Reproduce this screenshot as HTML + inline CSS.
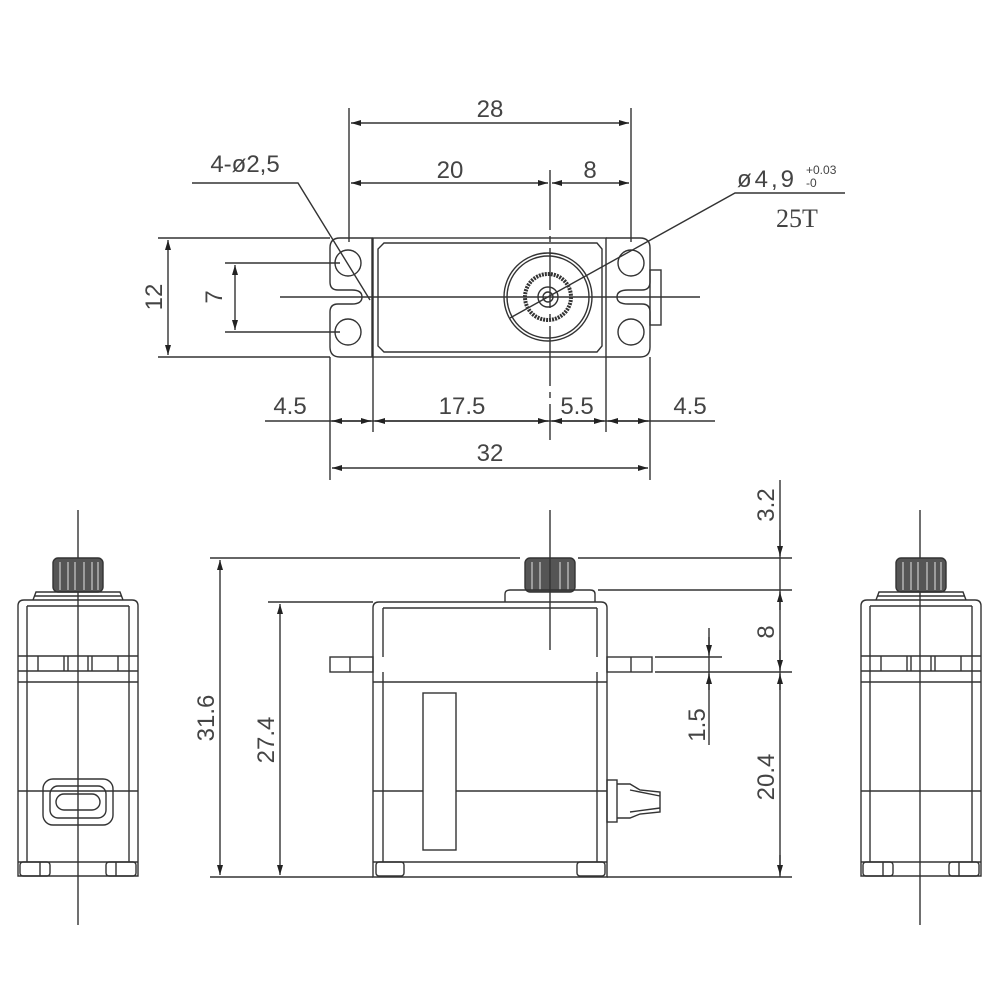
<!DOCTYPE html>
<html><head><meta charset="utf-8"><style>
html,body{margin:0;padding:0;background:#fff;}
svg{display:block;}
text{font-family:"Liberation Sans",sans-serif;fill:#444;}
</style></head><body>
<svg width="1000" height="1000" viewBox="0 0 1000 1000" xmlns="http://www.w3.org/2000/svg">
<defs>
<marker id="a" viewBox="0 0 10 6" refX="10" refY="3" markerWidth="10" markerHeight="6" markerUnits="userSpaceOnUse" orient="auto-start-reverse"><path d="M0,0L10,3L0,6z" fill="#222"/></marker>
<g id="side" fill="none" stroke="#333" stroke-width="1.4">
  <rect x="-25" y="558" width="50" height="34" rx="5" fill="#555"/>
  <g stroke="#ccc" stroke-width="1.2"><line x1="-18" y1="562" x2="-18" y2="590"/><line x1="-10" y1="562" x2="-10" y2="590"/><line x1="-3" y1="562" x2="-3" y2="590"/><line x1="6" y1="562" x2="6" y2="590"/><line x1="14" y1="562" x2="14" y2="590"/><line x1="20" y1="562" x2="20" y2="590"/></g>
  <path d="M-45,600 L-42,592 L42,592 L45,600"/>
  <line x1="-44" y1="596" x2="44" y2="596"/>
  <path d="M-60,876 L-60,606 Q-60,600 -54,600 L54,600 Q60,600 60,606 L60,876 Z"/>
  <line x1="-51" y1="606" x2="51" y2="606"/>
  <line x1="-51" y1="606" x2="-51" y2="862"/><line x1="51" y1="606" x2="51" y2="862"/>
  <line x1="-60" y1="656" x2="60" y2="656"/>
  <line x1="-60" y1="671" x2="60" y2="671"/>
  <line x1="-60" y1="682" x2="60" y2="682"/>
  <line x1="-40" y1="656" x2="-40" y2="671"/><line x1="40" y1="656" x2="40" y2="671"/>
  <line x1="-14" y1="656" x2="-14" y2="671"/><line x1="-10" y1="656" x2="-10" y2="671"/>
  <line x1="10" y1="656" x2="10" y2="671"/><line x1="14" y1="656" x2="14" y2="671"/>
  <line x1="-60" y1="791" x2="60" y2="791"/>
  <line x1="-60" y1="862" x2="60" y2="862"/>
  <rect x="-58" y="862" width="30" height="14" rx="3"/><rect x="28" y="862" width="30" height="14" rx="3"/>
  <line x1="-38" y1="862" x2="-38" y2="876"/><line x1="38" y1="862" x2="38" y2="876"/>
</g>
</defs>

<g fill="none" stroke="#333" stroke-width="1.4">
<!-- TOP VIEW -->
<line x1="349" y1="108" x2="349" y2="242"/><line x1="631" y1="108" x2="631" y2="242"/>
<line x1="351" y1="123" x2="629" y2="123" marker-start="url(#a)" marker-end="url(#a)"/>
<line x1="351" y1="183" x2="548" y2="183" marker-start="url(#a)" marker-end="url(#a)"/>
<line x1="552" y1="183" x2="629" y2="183" marker-start="url(#a)" marker-end="url(#a)"/>
<line x1="550" y1="170" x2="550" y2="440" stroke-dasharray="60 6 6 6"/>
<polyline points="192,183 298,183 370,300"/>
<polyline points="845,193 735,193 510,318"/>
<line x1="280" y1="297" x2="700" y2="297"/>
<!-- flanges / body -->
<path d="M340,238 L372,238 L372,357 L340,357 Q330,357 330,347 L330,312 Q330,304 338,304 L352,304 Q362,304 362,297 Q362,290 352,290 L338,290 Q330,290 330,282 L330,248 Q330,238 340,238 Z"/>
<path d="M606,238 L640,238 Q650,238 650,248 L650,282 Q650,290 642,290 L628,290 Q617,290 617,297 Q617,304 628,304 L642,304 Q650,304 650,312 L650,347 Q650,357 640,357 L606,357"/>
<rect x="650" y="270" width="11" height="55"/>
<rect x="373" y="238" width="233" height="119"/>
<path d="M384,243 L597,243 L602,249 L602,346 L597,352 L384,352 L378,346 L378,249 Z"/>
<circle cx="348" cy="263" r="13"/><circle cx="348" cy="332" r="13"/>
<circle cx="631" cy="263" r="13"/><circle cx="631" cy="332" r="13"/>
<circle cx="548" cy="297" r="44"/><circle cx="548" cy="297" r="41"/>
<circle cx="548" cy="297" r="23" stroke-width="4" stroke-dasharray="2 1"/>
<circle cx="548" cy="297" r="10"/><circle cx="548" cy="297" r="5"/>
<!-- 12 & 7 -->
<line x1="158" y1="238" x2="330" y2="238"/><line x1="158" y1="357" x2="330" y2="357"/>
<line x1="168" y1="240" x2="168" y2="355" marker-start="url(#a)" marker-end="url(#a)"/>
<line x1="225" y1="263" x2="340" y2="263"/><line x1="225" y1="332" x2="340" y2="332"/>
<line x1="235" y1="265" x2="235" y2="330" marker-start="url(#a)" marker-end="url(#a)"/>
<!-- bottom dims -->
<line x1="330" y1="357" x2="330" y2="480"/><line x1="373" y1="357" x2="373" y2="432"/>
<line x1="606" y1="357" x2="606" y2="432"/><line x1="650" y1="357" x2="650" y2="480"/>
<line x1="265" y1="421" x2="715" y2="421"/>
<line x1="332" y1="421" x2="371" y2="421" marker-start="url(#a)" marker-end="url(#a)"/>
<line x1="375" y1="421" x2="548" y2="421" marker-start="url(#a)" marker-end="url(#a)"/>
<line x1="552" y1="421" x2="604" y2="421" marker-start="url(#a)" marker-end="url(#a)"/>
<line x1="608" y1="421" x2="648" y2="421" marker-start="url(#a)" marker-end="url(#a)"/>
<line x1="332" y1="468" x2="648" y2="468" marker-start="url(#a)" marker-end="url(#a)"/>

<!-- FRONT VIEW -->
<rect x="525" y="558" width="50" height="34" rx="5" fill="#555"/>
<g stroke="#ccc" stroke-width="1.2"><line x1="532" y1="562" x2="532" y2="590"/><line x1="540" y1="562" x2="540" y2="590"/><line x1="560" y1="562" x2="560" y2="590"/><line x1="568" y1="562" x2="568" y2="590"/></g>
<path d="M505,602 L505,594 Q505,590 510,590 L590,590 Q595,590 595,594 L595,602"/>
<path d="M373,877 L373,608 Q373,602 379,602 L601,602 Q607,602 607,608 L607,877 Z"/>
<line x1="383" y1="608" x2="597" y2="608"/>
<line x1="383" y1="608" x2="383" y2="657"/><line x1="597" y1="608" x2="597" y2="657"/>
<line x1="383" y1="672" x2="383" y2="862"/><line x1="597" y1="672" x2="597" y2="862"/>
<rect x="330" y="657" width="43" height="15"/><line x1="350" y1="657" x2="350" y2="672"/>
<rect x="607" y="657" width="45" height="15"/><line x1="631" y1="657" x2="631" y2="672"/>
<line x1="373" y1="682" x2="607" y2="682"/>
<rect x="423" y="693" width="33" height="157"/>
<line x1="373" y1="791" x2="423" y2="791"/><line x1="456" y1="791" x2="607" y2="791"/>
<line x1="373" y1="862" x2="607" y2="862"/>
<rect x="376" y="862" width="28" height="14" rx="3"/><rect x="577" y="862" width="28" height="14" rx="3"/>
<rect x="607" y="780" width="10" height="42"/>
<path d="M617,784 L630,784 L640,790 L660,792 L660,812 L640,814 L630,818 L617,818"/>
<line x1="630" y1="790" x2="660" y2="796"/><line x1="630" y1="812" x2="660" y2="808"/>
<line x1="550" y1="510" x2="550" y2="650"/>
<!-- front dims -->
<line x1="210" y1="558" x2="520" y2="558"/><line x1="578" y1="558" x2="792" y2="558"/>
<line x1="598" y1="590" x2="792" y2="590"/>
<line x1="268" y1="602" x2="373" y2="602"/>
<line x1="210" y1="877" x2="373" y2="877"/><line x1="607" y1="877" x2="792" y2="877"/>
<line x1="655" y1="657" x2="722" y2="657"/><line x1="655" y1="672" x2="792" y2="672"/>
<line x1="220" y1="560" x2="220" y2="875" marker-start="url(#a)" marker-end="url(#a)"/>
<line x1="280" y1="604" x2="280" y2="875" marker-start="url(#a)" marker-end="url(#a)"/>
<line x1="780" y1="480" x2="780" y2="877"/>
<line x1="780" y1="530" x2="780" y2="556" marker-end="url(#a)"/>
<line x1="780" y1="610" x2="780" y2="592" marker-end="url(#a)"/>
<line x1="780" y1="650" x2="780" y2="670" marker-end="url(#a)"/>
<line x1="780" y1="690" x2="780" y2="674" marker-end="url(#a)"/>
<line x1="780" y1="855" x2="780" y2="875" marker-end="url(#a)"/>
<line x1="709" y1="628" x2="709" y2="745"/>
<line x1="709" y1="637" x2="709" y2="655" marker-end="url(#a)"/>
<line x1="709" y1="690" x2="709" y2="674" marker-end="url(#a)"/>
<!-- side view center lines -->
<line x1="78" y1="510" x2="78" y2="925"/>
<line x1="920" y1="510" x2="920" y2="925"/>
<!-- connector on left side view -->
<rect x="43" y="779" width="70" height="46" rx="10"/>
<rect x="50" y="786" width="56" height="32" rx="8"/>
<rect x="56" y="794" width="44" height="16" rx="8"/>
</g>
<use href="#side" transform="translate(78,0)"/>
<use href="#side" transform="translate(921,0)"/>

<!-- TEXT -->
<g font-size="24" text-anchor="middle">
<text x="490" y="117">28</text>
<text x="450" y="178">20</text>
<text x="590" y="178">8</text>
<text x="245" y="172">4-ø2,5</text>
<text x="737" y="187" text-anchor="start" letter-spacing="3">ø4,9</text>
<text x="806" y="174" font-size="12" text-anchor="start">+0.03</text>
<text x="806" y="187" font-size="12" text-anchor="start">-0</text>
<text x="797" y="227" style="font-family:'Liberation Serif',serif" font-size="26">25T</text>
<text x="0" y="0" transform="translate(162,297) rotate(-90)">12</text>
<text x="0" y="0" transform="translate(222,297) rotate(-90)">7</text>
<text x="290" y="414">4.5</text>
<text x="462" y="414">17.5</text>
<text x="577" y="414">5.5</text>
<text x="690" y="414">4.5</text>
<text x="490" y="461">32</text>
<text x="0" y="0" transform="translate(214,718) rotate(-90)">31.6</text>
<text x="0" y="0" transform="translate(274,740) rotate(-90)">27.4</text>
<text x="0" y="0" transform="translate(774,505) rotate(-90)">3.2</text>
<text x="0" y="0" transform="translate(774,632) rotate(-90)">8</text>
<text x="0" y="0" transform="translate(774,777) rotate(-90)">20.4</text>
<text x="0" y="0" transform="translate(705,725) rotate(-90)">1.5</text>
</g>
</svg>
</body></html>
